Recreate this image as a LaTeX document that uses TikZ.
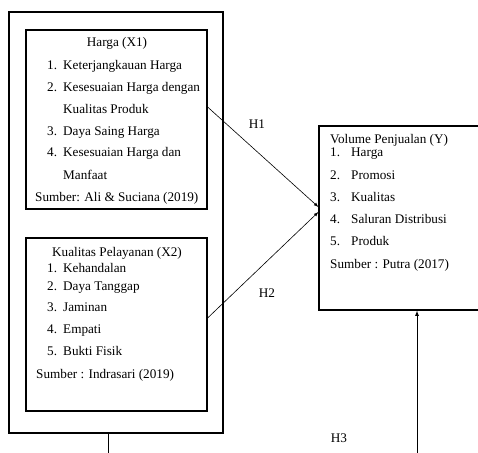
\documentclass[tikz,border=0pt]{standalone}
\usepackage{fontspec}
\setmainfont{Liberation Serif}
\usepackage{tikz}
\usetikzlibrary{calc, arrows, positioning}
\tikzset{
    boxnode/.style = {draw, rectangle, line width=1.2pt, inner sep=0em, node distance=0em},
    textnode/.style = {draw=none, fill=none, rectangle, inner sep=0em, anchor=west,
      font=\fontsize{13.2}{16}\selectfont, text height=9.5pt, text depth=3pt},
    titlenode/.style = {textnode, anchor=center},
    hlabel/.style = {textnode, anchor=center},
    connect/.style = {black, line width=0.6pt, -latex}
}
\newcommand{\numitem}[2]{\makebox[#1][l]{#2}}

\begin{document}
\begin{tikzpicture}[x=1pt, y=-1pt]
    \useasboundingbox (0,0) rectangle (478,452);
    \clip (0,0) rectangle (478,452);

    \node [name=outer, boxnode, minimum width=214pt, minimum height=421pt] at (116,222.5) {};
    \node [name=harga, boxnode, minimum width=181pt, minimum height=179pt] at (116.5,119.5) {};
    \node [name=kualitas, boxnode, minimum width=181pt, minimum height=173pt] at (116.5,324.5) {};
    \node [name=volume, boxnode, minimum width=196pt, minimum height=184pt] at (417,218) {};

    % Harga (X1)
    \node [name=hx0, titlenode] at (117,43) {Harga (X1)};
    \node [name=hx1, textnode] at (47,66) {\numitem{16pt}{1.}Keterjangkauan Harga};
    \node [name=hx2, textnode] at (47,88) {\numitem{16pt}{2.}Kesesuaian Harga dengan};
    \node [name=hx2b, textnode] at (63,110) {Kualitas Produk};
    \node [name=hx3, textnode] at (47,132) {\numitem{16pt}{3.}Daya Saing Harga};
    \node [name=hx4, textnode] at (47,153) {\numitem{16pt}{4.}Kesesuaian Harga dan};
    \node [name=hx4b, textnode] at (63,176) {Manfaat};
    \node [name=hxs, textnode] at (35,198) {Sumber: Ali \& Suciana (2019)};

    % Kualitas Pelayanan (X2)
    \node [name=kx0, titlenode] at (117,253) {Kualitas Pelayanan (X2)};
    \node [name=kx1, textnode] at (47,269) {\numitem{16pt}{1.}Kehandalan};
    \node [name=kx2, textnode] at (47,287) {\numitem{16pt}{2.}Daya Tanggap};
    \node [name=kx3, textnode] at (47,308) {\numitem{16pt}{3.}Jaminan};
    \node [name=kx4, textnode] at (47,330) {\numitem{16pt}{4.}Empati};
    \node [name=kx5, textnode] at (47,352) {\numitem{16pt}{5.}Bukti Fisik};
    \node [name=kxs, textnode] at (36,375) {Sumber : Indrasari (2019)};

    % Volume Penjualan (Y)
    \node [name=vy0, textnode] at (330,140) {Volume Penjualan (Y)};
    \node [name=vy1, textnode] at (330,153) {\numitem{21pt}{1.}Harga};
    \node [name=vy2, textnode] at (330,176) {\numitem{21pt}{2.}Promosi};
    \node [name=vy3, textnode] at (330,198) {\numitem{21pt}{3.}Kualitas};
    \node [name=vy4, textnode] at (330,220) {\numitem{21pt}{4.}Saluran Distribusi};
    \node [name=vy5, textnode] at (330,242) {\numitem{21pt}{5.}Produk};
    \node [name=vys, textnode] at (330,265) {Sumber : Putra (2017)};

    % hipotesis
    \node [name=h1, hlabel] at (257,125) {H1};
    \node [name=h2, hlabel] at (267,294) {H2};
    \node [name=h3, hlabel] at (339,439) {H3};

    \draw [connect] ([yshift=12.5pt]harga.east) -- ([yshift=11pt]volume.west);
    \draw [connect] ([yshift=6.5pt]kualitas.east) -- ([yshift=6pt]volume.west);
    \draw [connect, line width=0.8pt] ([xshift=-8pt]outer.south) -- ++(0,30) -| (volume.south);
\end{tikzpicture}
\end{document}
